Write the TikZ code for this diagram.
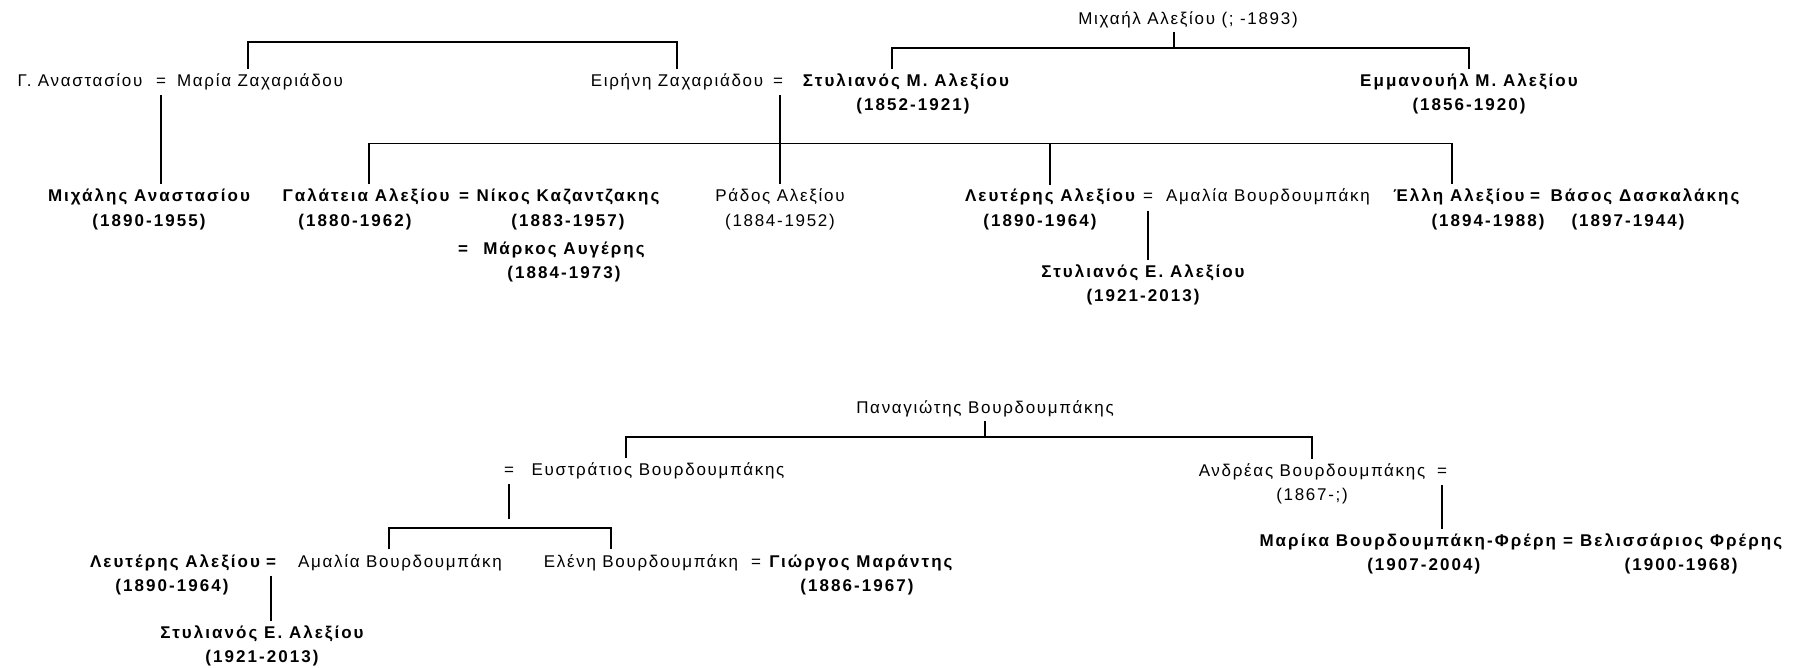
\documentclass[tikz,border=0pt]{standalone}
\usepackage{fontspec}
\setmainfont{Liberation Sans}
\newfontfamily\plainfam[LetterSpace=10]{Liberation Sans}
\newfontfamily\boldfam[LetterSpace=12]{Liberation Sans}
\usetikzlibrary{positioning}
\tikzset{
every node/.style={inner sep=0pt, text height=13pt, text depth=4pt},
nm/.style={font=\plainfam\fontsize{17}{20}\selectfont},
bnm/.style={font=\boldfam\bfseries\fontsize{17}{20}\selectfont},
cx/.style={shorten <=4pt, shorten >=4pt},
up/.style={shorten >=3pt},
node distance=6pt,
}

\begin{document}
\begin{tikzpicture}[x=1pt, y=-1pt, line width=1.1pt]
        \useasboundingbox (0,0) rectangle (1800,668);

        % Alexiou - Zachariadou
        \node[nm] (michail) at (1188,20) {Μιχαήλ Αλεξίου (; -1893)};
        \node[nm] (ganast) at (80,82) {Γ. Αναστασίου};
        \node[nm] (eq1) at (161,82) {=};
        \node[nm] (maria) at (260,82) {Μαρία Ζαχαριάδου};
        \node[nm] (eirini) at (677,82) {Ειρήνη Ζαχαριάδου};
        \node[nm] (eq2) at (778,82) {=};
        \node[bnm] (stylm) at (906,82) {Στυλιανός Μ. Αλεξίου};
        \node[bnm, below=of stylm, xshift=7pt] (stylmy) {(1852-1921)};
        \node[bnm] (emman) at (1469,82) {Εμμανουήλ Μ. Αλεξίου};
        \node[bnm, below=of emman] (emmany) {(1856-1920)};

        \node[bnm] (michan) at (149,197.5) {Μιχάλης Αναστασίου};
        \node[bnm, below=of michan] (michany) {(1890-1955)};
        \node[bnm] (galat) at (366,197.5) {Γαλάτεια Αλεξίου};
        \node[bnm, below=of galat, xshift=-11pt] (galaty) {(1880-1962)};
        \node[bnm] (eq3) at (464,197.5) {=};
        \node[bnm] (nikos) at (568,197.5) {Νίκος Καζαντζακης};
        \node[bnm, below=of nikos] (nikosy) {(1883-1957)};
        \node[bnm] (eq4) at (463,250) {=};
        \node[bnm] (markos) at (564,250) {Μάρκος Αυγέρης};
        \node[bnm, below=of markos] (markosy) {(1884-1973)};
        \node[nm] (rados) at (780,197.5) {Ράδος Αλεξίου};
        \node[nm, below=of rados] (radosy) {(1884-1952)};
        \node[bnm] (lefter) at (1050,197.5) {Λευτέρης Αλεξίου};
        \node[bnm, below=of lefter, xshift=-10pt] (leftery) {(1890-1964)};
        \node[nm] (eq5) at (1148,197.5) {=};
        \node[nm] (amalia) at (1268,197.5) {Αμαλία Βουρδουμπάκη};
        \node[bnm] (stylE) at (1143,273) {Στυλιανός Ε. Αλεξίου};
        \node[bnm, below=of stylE] (stylEy) {(1921-2013)};
        \node[bnm] (elli) at (1459,197.5) {Έλλη Αλεξίου};
        \node[bnm, below=of elli, xshift=29pt] (elliy) {(1894-1988)};
        \node[bnm] (eq6) at (1535,197.5) {=};
        \node[bnm] (vasos) at (1645,197.5) {Βάσος Δασκαλάκης};
        \node[bnm, below=of vasos, xshift=-17pt] (vasosy) {(1897-1944)};

        \coordinate (zb) at (465,42);
        \coordinate (mb) at (1174,48);
        \coordinate (cb) at (900,143.5);
        \draw[cx] ([xshift=-12pt]maria.north) |- (zb) -| (eirini.north);
        \draw[shorten <=3pt] ([xshift=-14pt]michail.south) -- (mb);
        \draw[cx] ([xshift=-14pt]stylm.north) |- (mb) -| (emman.north);
        \draw[cx] (eq1.south) -- (eq1.south |- michan.north);
        \draw[cx] (eq2.south -| rados.north) -- (rados.north);
        \draw[cx] ([xshift=3pt]galat.north) |- (cb) -| ([xshift=-7pt]elli.north);
        \draw[up] (cb -| lefter.north) -- (lefter.north);
        \draw[cx] (eq5.south) -- (eq5.south |- stylE.north);

        % Vourdoumpakis
        \node[nm] (panag) at (985,409) {Παναγιώτης Βουρδουμπάκης};
        \node[nm] (evq) at (509,471) {=};
        \node[nm] (evstr) at (658,471) {Ευστράτιος Βουρδουμπάκης};
        \node[nm] (andreas) at (1312,472) {Ανδρέας Βουρδουμπάκης};
        \node[nm, below=of andreas] (andreasy) {(1867-;)};
        \node[nm] (eq7) at (1442,472) {=};

        \node[bnm] (lefter2) at (175,562.5) {Λευτέρης Αλεξίου};
        \node[bnm, below=of lefter2, xshift=-3pt] (lefter2y) {(1890-1964)};
        \node[bnm] (eq9) at (271,562.5) {=};
        \node[nm] (amalia2) at (400,562.5) {Αμαλία Βουρδουμπάκη};
        \node[bnm] (stylE2) at (262,634) {Στυλιανός Ε. Αλεξίου};
        \node[bnm, below=of stylE2] (stylE2y) {(1921-2013)};
        \node[nm] (eleni) at (641,562.5) {Ελένη Βουρδουμπάκη};
        \node[nm] (eq10) at (756,562.5) {=};
        \node[bnm] (giorgos) at (861,562.5) {Γιώργος Μαράντης};
        \node[bnm, below=of giorgos, xshift=-4pt] (giorgosy) {(1886-1967)};
        \node[bnm, anchor=west] (marika) at (1259,542) {Μαρίκα Βουρδουμπάκη-Φρέρη};
        \node[bnm, below=of marika, xshift=16pt] (marikay) {(1907-2004)};
        \node[bnm, right=6pt of marika] (eq8) {=};
        \node[bnm, right=6pt of eq8] (velis) {Βελισσάριος Φρέρης};
        \node[bnm, below=of velis] (velisy) {(1900-1968)};

        \coordinate (pb) at (985,437);
        \coordinate (eb) at (500,528);
        \draw[up] (pb -| panag.south) -- (panag.south);
        \draw[cx] ([xshift=-32pt]evstr.north) |- (pb) -| (andreas.north);
        \draw[shorten <=4pt, shorten >=9pt] (evq.south) -- (evq.south |- eb);
        \draw[cx] ([xshift=-11pt]amalia2.north) |- (eb) -| ([xshift=-30pt]eleni.north);
        \draw[cx] (eq9.south) -- (eq9.south |- stylE2.north);
        \draw[cx] (eq7.south) -- (eq7.south |- marika.north);
    \end{tikzpicture}
\end{document}
